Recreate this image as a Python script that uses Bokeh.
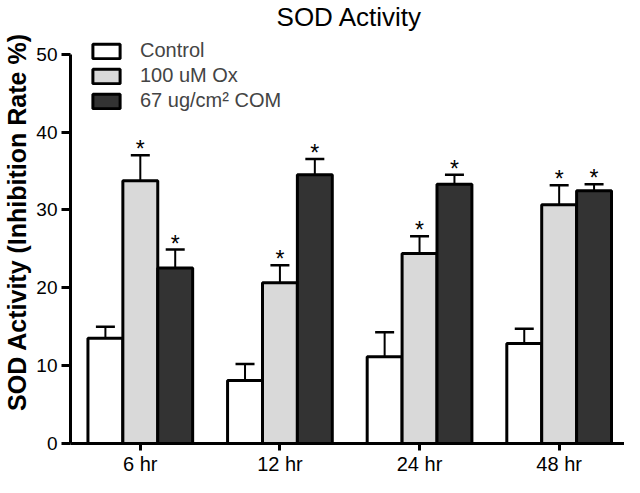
from bokeh.plotting import figure
from bokeh.models import (ColumnDataSource, Range1d, FixedTicker, Legend, LegendItem,
                          Whisker, TeeHead, Label)
from bokeh.core.properties import value
from bokeh.embed import file_html
from bokeh.resources import INLINE

# ---------------- data ----------------
title = "SOD Activity"
y_label = "SOD Activity (Inhibition Rate %)"
groups = ["6 hr", "12 hr", "24 hr", "48 hr"]
series_names = ["Control", "100 uM Ox", "67 ug/cm² COM"]
control = [13.5, 8.1, 11.15, 12.85]
control_err = [1.5, 2.1, 3.15, 1.9]
ox = [33.75, 20.65, 24.4, 30.65]
ox_err = [3.25, 2.25, 2.2, 2.5]
com = [22.55, 34.5, 33.3, 32.45]
com_err = [2.35, 2.05, 1.2, 0.85]
significant = [False, True, True]
y_ticks = [0, 10, 20, 30, 40, 50]
y_axis_max = 50

# ---------------- layout / style ----------------
FONT = "Liberation Sans"
fills = ["#ffffff", "#d9d9d9", "#333333"]
offsets = [-0.25, 0.0, 0.25]
BAR_W = 0.25
W, H = 624, 477
BORDER_BOTTOM = 31
FRAME_H = H - BORDER_BOTTOM          # frame spans whole height above the x axis
TOP_PX = 54                          # pixel gap between frame top and the 50 tick
y_end = y_axis_max * FRAME_H / (FRAME_H - TOP_PX)

p = figure(width=W, height=H, output_backend="svg", toolbar_location=None,
           x_range=Range1d(0.5, 4.468), y_range=Range1d(0, y_end),
           min_border_left=64, min_border_right=0, min_border_top=0,
           min_border_bottom=BORDER_BOTTOM, title=None)

p.xgrid.visible = False
p.ygrid.visible = False
p.outline_line_color = None
p.background_fill_color = "white"

xa = p.xaxis[0]
xa.ticker = FixedTicker(ticks=[i + 1 for i in range(len(groups))])
xa.major_label_overrides = {i + 1: g for i, g in enumerate(groups)}
xa.axis_label = None
xa.axis_label_standoff = 0
xa.axis_line_width = 3
xa.major_tick_line_width = 3
xa.major_tick_out = 7
xa.major_tick_in = 0
xa.minor_tick_out = 0
xa.minor_tick_in = 0
xa.major_label_standoff = 2
xa.major_label_text_font = FONT
xa.major_label_text_font_size = "20px"
xa.major_label_text_color = "black"

ya = p.yaxis[0]
ya.ticker = FixedTicker(ticks=y_ticks)
ya.bounds = (0, y_axis_max)
ya.axis_line_width = 3
ya.major_tick_line_width = 3
ya.major_tick_out = 9
ya.major_tick_in = 0
ya.minor_tick_out = 0
ya.minor_tick_in = 0
ya.major_label_standoff = 4
ya.major_label_text_font = FONT
ya.major_label_text_font_size = "19px"
ya.major_label_text_color = "black"
ya.axis_label = y_label
ya.axis_label_text_font = FONT
ya.axis_label_text_font_size = "25px"
ya.axis_label_text_font_style = "bold"
ya.axis_label_text_color = "black"
ya.axis_label_standoff = 2

series_vals = [control, ox, com]
series_errs = [control_err, ox_err, com_err]
renderers = []
for name, vals, errs, fill, off, sig in zip(series_names, series_vals, series_errs,
                                             fills, offsets, significant):
    src = ColumnDataSource(dict(
        x=[i + 1 + off for i in range(len(groups))],
        top=vals,
        upper=[v + e for v, e in zip(vals, errs)],
        star=["*" if sig else "" for _ in vals],
    ))
    p.add_layout(Whisker(source=src, base="x", lower="top", upper="upper",
                         dimension="height", line_width=2, line_color="black",
                         upper_head=TeeHead(size=19, line_width=2.5, line_color="black"),
                         lower_head=None))
    r = p.vbar(x="x", top="top", bottom=0, width=BAR_W, source=src,
               fill_color=fill, line_color="black", line_width=3)
    renderers.append(r)
    if sig:
        p.text(x="x", y="upper", text="star", source=src, text_font=value(FONT),
               text_font_size=value("23px"), text_align="center",
               text_baseline="alphabetic", text_color="black", y_offset=-6)

legend = Legend(items=[LegendItem(label=n, renderers=[r]) for n, r in zip(series_names, renderers)],
                location=(19, 331), orientation="vertical", padding=0, margin=0,
                spacing=2, glyph_width=34, glyph_height=18, label_standoff=17,
                label_text_font=FONT, label_text_font_size="20px",
                border_line_color=None, background_fill_alpha=0)
p.add_layout(legend)

p.add_layout(Label(text=title, x=279, y=FRAME_H - 19.5, x_units="screen", y_units="screen",
                   text_font=FONT, text_font_size="26px", text_align="center",
                   text_baseline="alphabetic", text_color="black"))

open("out.html", "w").write(file_html(p, INLINE))
